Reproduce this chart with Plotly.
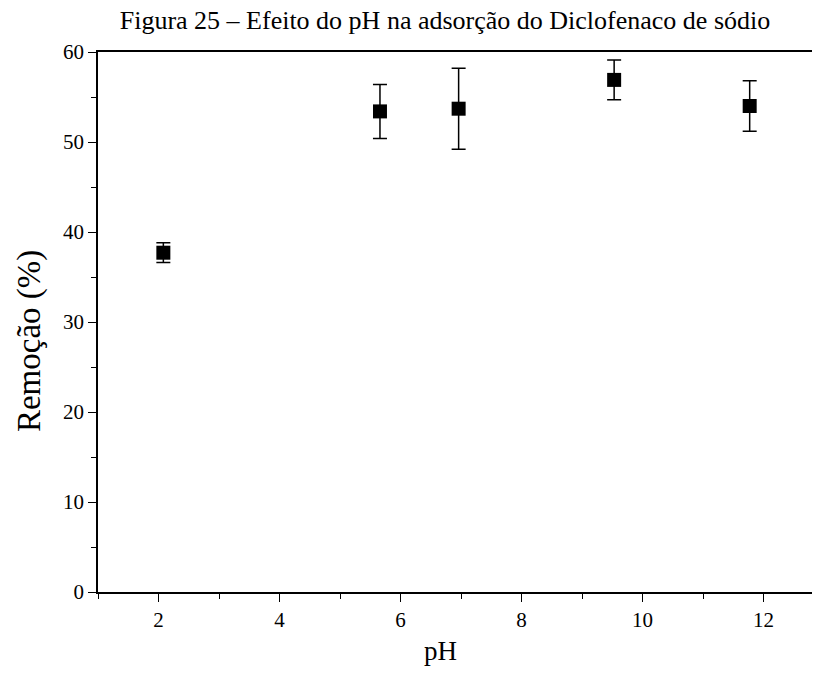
import plotly.graph_objects as go

ph = [2.08, 5.66, 6.96, 9.53, 11.77]
remocao = [37.7, 53.4, 53.7, 56.9, 54.0]
erro = [1.1, 3.0, 4.5, 2.2, 2.8]

x_ticks = [2, 4, 6, 8, 10, 12]
y_ticks = [0, 10, 20, 30, 40, 50, 60]

FONT = "Liberation Serif"

fig = go.Figure()
fig.add_trace(go.Scatter(
    x=ph, y=remocao, mode="markers",
    marker=dict(symbol="square", size=14, color="black"),
    error_y=dict(type="data", array=erro, visible=True, color="black",
                 thickness=1.5, width=7),
    showlegend=False,
))

fig.update_layout(
    width=815, height=685,
    paper_bgcolor="white", plot_bgcolor="white",
    margin=dict(l=98, r=3, t=52, b=93, autoexpand=False),
    title=dict(text="Figura 25 – Efeito do pH na adsorção do Diclofenaco de sódio",
               x=0.546, xanchor="center", y=0.971, yanchor="middle",
               font=dict(family=FONT, size=26, color="black")),
    font=dict(family=FONT, color="black"),
    annotations=[
        dict(text="pH", xref="paper", yref="paper", x=0.48, y=0, yshift=-59,
             xanchor="center", yanchor="middle", showarrow=False,
             font=dict(family=FONT, size=27, color="black")),
        dict(text="Remoção (%)", xref="paper", yref="paper", x=-0.095, y=0.465,
             xanchor="center", yanchor="middle", textangle=-90, showarrow=False,
             font=dict(family=FONT, size=33, color="black")),
    ],
)

fig.update_xaxes(
    range=[1, 12.8], tickvals=x_ticks, ticktext=[str(v) for v in x_ticks],
    showgrid=False, zeroline=False,
    showline=True, linecolor="black", linewidth=1.5, mirror=True,
    ticks="outside", ticklen=8, tickwidth=1.2, tickcolor="black",
    minor=dict(tickvals=[1, 3, 5, 7, 9, 11], ticks="outside", ticklen=5,
               tickwidth=1.2, tickcolor="black", showgrid=False),
    tickfont=dict(family=FONT, size=21, color="black"),
)
fig.update_yaxes(
    range=[0, 60], tickvals=y_ticks, ticktext=[str(v) for v in y_ticks],
    showgrid=False, zeroline=False,
    showline=True, linecolor="black", linewidth=1.5,
    ticks="outside", ticklen=8, tickwidth=1.2, tickcolor="black",
    minor=dict(tickvals=[5, 15, 25, 35, 45, 55], ticks="outside", ticklen=5,
               tickwidth=1.2, tickcolor="black", showgrid=False),
    tickfont=dict(family=FONT, size=21, color="black"),
)

fig.write_html("out.html", config={"displayModeBar": False},
               post_script="document.body.style.margin='0';document.body.style.overflow='hidden';")
